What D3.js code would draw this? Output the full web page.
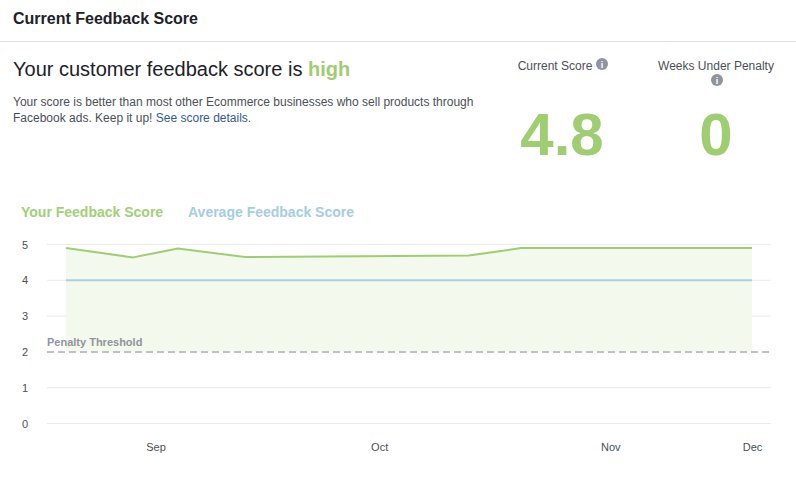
<!DOCTYPE html>
<html>
<head>
<meta charset="utf-8">
<script src="https://cdn.jsdelivr.net/npm/d3@7"></script>
<style>
  body { margin: 0; background: #fff; }
  svg { display: block; font-family: "Liberation Sans", Arial, Helvetica, sans-serif; }
</style>
</head>
<body>
<div id="chart"></div>
<script>
// data
const weeks = ["2017-08-20", "2017-08-29", "2017-09-04", "2017-09-13", "2017-10-13", "2017-10-20", "2017-11-20"];
const yourScore = [4.9, 4.64, 4.89, 4.65, 4.69, 4.9, 4.9];
const averageScore = [4, 4, 4, 4, 4, 4, 4];
const monthTicks = ["2017-09-01", "2017-10-01", "2017-11-01", "2017-12-01"];
const scoreTicks = [0, 1, 2, 3, 4, 5];
const penaltyThreshold = 2;
const currentScore = "4.8";
const weeksUnderPenalty = "0";

const parseDate = d3.timeParse("%Y-%m-%d");
const data = weeks.map((w, i) => ({date: parseDate(w), you: yourScore[i], avg: averageScore[i]}));

const W = 796, H = 490;
const green = "#9fcd72", blue = "#a9cfe0", grey = "#90949c", text = "#4b4f56";

const svg = d3.select("#chart")
  .append("svg")
  .attr("width", W)
  .attr("height", H);

// header
svg.append("text")
  .attr("x", 13).attr("y", 24)
  .attr("font-size", "16px").attr("font-weight", "bold").attr("fill", "#1d2129")
  .text("Current Feedback Score");
svg.append("line")
  .attr("x1", 0).attr("x2", W).attr("y1", 41.5).attr("y2", 41.5)
  .attr("stroke", "#dddfe2");

// headline
const head = svg.append("text")
  .attr("x", 13).attr("y", 76)
  .attr("font-size", "20px").attr("fill", "#1d2129");
head.append("tspan").text("Your customer feedback score is ");
head.append("tspan").attr("fill", green).attr("font-weight", "bold").text("high");

const para = svg.append("g").attr("font-size", "12px").attr("fill", text);
para.append("text").attr("x", 13).attr("y", 106)
  .text("Your score is better than most other Ecommerce businesses who sell products through");
const p2 = para.append("text").attr("x", 13).attr("y", 122);
p2.append("tspan").text("Facebook ads. Keep it up! ");
p2.append("tspan").attr("fill", "#365899").text("See score details.");

// info icon helper
function infoIcon(x, y) {
  const g = svg.append("g").attr("transform", `translate(${x},${y})`);
  g.append("circle").attr("r", 6).attr("fill", grey);
  g.append("text").attr("y", 3.5).attr("text-anchor", "middle")
    .attr("font-size", "9px").attr("font-weight", "bold").attr("fill", "#fff").text("i");
}

// score boxes
svg.append("text").attr("x", 555).attr("y", 70).attr("text-anchor", "middle")
  .attr("font-size", "12px").attr("fill", text).text("Current Score");
infoIcon(602, 64);
svg.append("text").attr("x", 716).attr("y", 70).attr("text-anchor", "middle")
  .attr("font-size", "12px").attr("fill", text).text("Weeks Under Penalty");
infoIcon(717, 80);

svg.append("text").attr("x", 562).attr("y", 155).attr("text-anchor", "middle")
  .attr("font-size", "60px").attr("font-weight", "bold").attr("fill", green).text(currentScore);
svg.append("text").attr("x", 716).attr("y", 155).attr("text-anchor", "middle")
  .attr("font-size", "60px").attr("font-weight", "bold").attr("fill", green).text(weeksUnderPenalty);

// legend
svg.append("text").attr("x", 21).attr("y", 217)
  .attr("font-size", "14px").attr("font-weight", "bold").attr("fill", "#a3cf79")
  .text("Your Feedback Score");
svg.append("text").attr("x", 188).attr("y", 217)
  .attr("font-size", "14px").attr("font-weight", "bold").attr("fill", "#a5cde0")
  .text("Average Feedback Score");

// scales
const x = d3.scaleTime()
  .domain(d3.extent(data, d => d.date))
  .range([66, 752])
  .clamp(true);
const y = d3.scaleLinear().domain([0, 5]).range([423.5, 244.5]);
const gridLeft = 47, gridRight = 771;

// gridlines
svg.append("g")
  .selectAll("line")
  .data(scoreTicks.filter(t => t !== penaltyThreshold))
  .join("line")
  .attr("x1", gridLeft).attr("x2", gridRight)
  .attr("y1", d => y(d)).attr("y2", d => y(d))
  .attr("stroke", "#e9ebee");

// y labels
svg.append("g")
  .attr("font-size", "11px").attr("fill", text).attr("text-anchor", "middle")
  .selectAll("text")
  .data(scoreTicks)
  .join("text")
  .attr("x", 25)
  .attr("y", d => y(d) + 4)
  .text(d => d);

// area down to penalty threshold
svg.append("path")
  .datum(data)
  .attr("fill", "#f3f9ec")
  .attr("d", d3.area().x(d => x(d.date)).y0(y(penaltyThreshold)).y1(d => y(d.you)));

// average line
svg.append("path")
  .datum(data)
  .attr("fill", "none").attr("stroke", blue).attr("stroke-width", 2)
  .attr("d", d3.line().x(d => x(d.date)).y(d => y(d.avg)));

// your score line
svg.append("path")
  .datum(data)
  .attr("fill", "none").attr("stroke", green).attr("stroke-width", 2)
  .attr("stroke-linejoin", "round")
  .attr("d", d3.line().x(d => x(d.date)).y(d => y(d.you)));

// penalty threshold
svg.append("line")
  .attr("x1", gridLeft).attr("x2", gridRight)
  .attr("y1", y(penaltyThreshold)).attr("y2", y(penaltyThreshold))
  .attr("stroke", "#bec2c6").attr("stroke-width", 2).attr("stroke-dasharray", "7,4");
svg.append("text")
  .attr("x", 47).attr("y", y(penaltyThreshold) - 6)
  .attr("font-size", "11px").attr("font-weight", "bold").attr("fill", grey)
  .text("Penalty Threshold");

// x axis
const xAxis = d3.axisBottom(x)
  .tickValues(monthTicks.map(parseDate))
  .tickFormat(d3.timeFormat("%b"))
  .tickSize(0)
  .tickPadding(0);
const gx = svg.append("g")
  .attr("transform", "translate(0,443)")
  .call(xAxis);
gx.select(".domain").remove();
gx.selectAll("text")
  .attr("font-family", "Liberation Sans, Arial, sans-serif")
  .attr("font-size", "11px").attr("fill", text).attr("dy", "0.71em");
</script>
</body>
</html>
